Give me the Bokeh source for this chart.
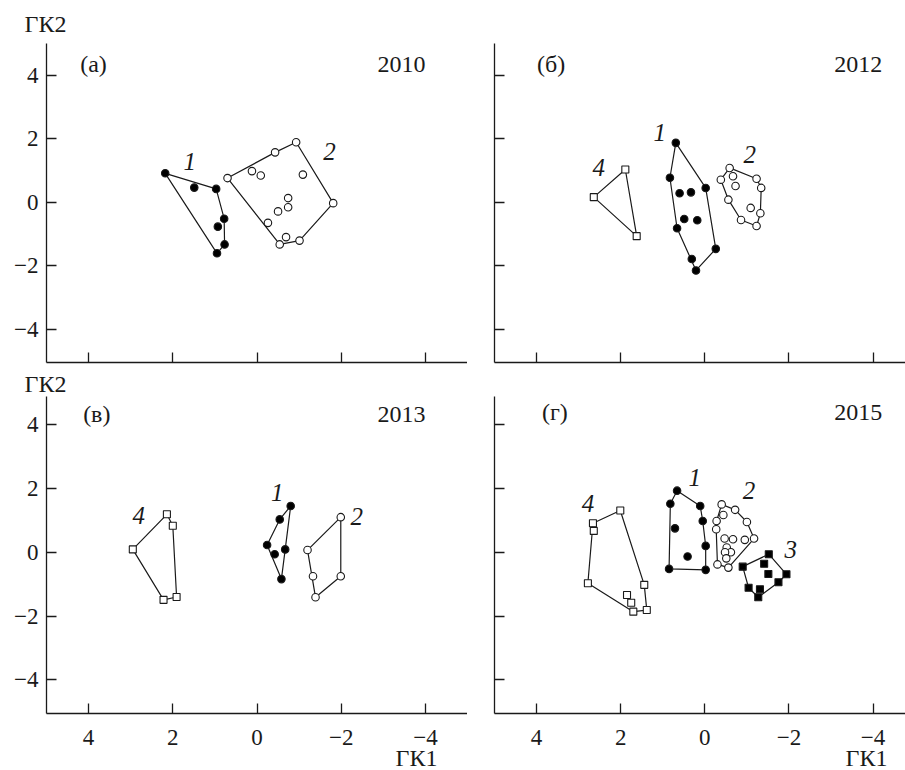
from bokeh.plotting import figure
from bokeh.layouts import column, row
from bokeh.models import FixedTicker, Label, Range1d, Title
from bokeh.embed import file_html
from bokeh.resources import INLINE
from bokeh.core.properties import value

FONT = "Liberation Serif"
INK = "#1a1a1a"

TICKS = [4, 2, 0, -2, -4]
TICK_LABELS = ["4", "2", "0", "\u22122", "\u22124"]

# ---------- data (ГК1, ГК2) ----------
# (а) 2010
a_g1_x = [2.18, 1.49, 0.97, 0.78, 0.93, 0.77, 0.95]
a_g1_y = [0.91, 0.46, 0.42, -0.52, -0.77, -1.33, -1.61]
a_g2_x = [0.70, -0.43, -0.93, -1.81, -1.01, -0.54, 0.12, -0.09, -1.09, -0.74, -0.74, -0.50, -0.26, -0.69]
a_g2_y = [0.76, 1.57, 1.89, -0.03, -1.21, -1.33, 0.98, 0.84, 0.87, 0.13, -0.16, -0.29, -0.65, -1.10]

# (б) 2012
b_g1_x = [0.69, 0.83, -0.02, 0.66, -0.26, 0.31, 0.21, 0.60, 0.33, 0.49, 0.18]
b_g1_y = [1.87, 0.77, 0.45, -0.82, -1.47, -1.79, -2.15, 0.28, 0.31, -0.53, -0.57]
b_g2_x = [-0.59, -0.38, -1.23, -1.34, -1.32, -1.23, -0.86, -0.56, -0.67, -0.73, -1.09]
b_g2_y = [1.08, 0.71, 0.74, 0.45, -0.35, -0.75, -0.56, 0.08, 0.82, 0.51, -0.18]
b_g4_x = [1.89, 2.64, 1.62]
b_g4_y = [1.03, 0.16, -1.07]

# (в) 2013
c_g1_x = [-0.80, -0.54, -0.24, -0.42, -0.67, -0.58]
c_g1_y = [1.45, 1.03, 0.23, -0.06, 0.09, -0.84]
c_g2_x = [-1.99, -1.20, -1.33, -1.39, -1.99]
c_g2_y = [1.10, 0.07, -0.75, -1.41, -0.75]
c_g4_x = [2.14, 2.00, 2.95, 2.22, 1.91]
c_g4_y = [1.19, 0.83, 0.09, -1.49, -1.40]

# (г) 2015
d_g1_x = [0.66, 0.82, 0.11, 0.05, -0.02, -0.02, 0.85, 0.71, 0.41]
d_g1_y = [1.93, 1.52, 1.45, 0.98, 0.20, -0.55, -0.52, 0.75, -0.13]
d_g2_x = [-0.40, -0.72, -0.44, -0.28, -0.27, -1.00, -1.17, -0.95, -0.47, -0.67,
          -0.52, -0.62, -0.48, -0.51, -0.30, -0.56]
d_g2_y = [1.50, 1.33, 1.17, 0.98, 0.72, 0.95, 0.43, 0.39, 0.43, 0.41,
          0.15, 0.00, 0.00, -0.19, -0.38, -0.48]
d_g3_x = [-1.52, -0.90, -1.41, -1.51, -1.94, -1.75, -1.04, -1.31, -1.27]
d_g3_y = [-0.06, -0.45, -0.36, -0.68, -0.69, -0.94, -1.11, -1.16, -1.41]
d_g4_x = [2.01, 2.66, 2.64, 2.78, 1.70, 1.38, 1.44, 1.85, 1.75]
d_g4_y = [1.31, 0.91, 0.67, -0.97, -1.86, -1.81, -1.02, -1.34, -1.58]

# group number labels (text, x, y of the label)
a_nums = (["1", "2"], [1.60, -1.72], [1.28, 1.59])
b_nums = (["4", "1", "2"], [2.52, 1.07, -1.07], [1.10, 2.19, 1.49])
c_nums = (["4", "1", "2"], [2.81, -0.48, -2.37], [1.15, 1.88, 1.11])
d_nums = (["4", "1", "2", "3"], [2.78, 0.24, -1.05, -2.04], [1.52, 2.34, 1.92, 0.09])

panel_letters = ["(а)", "(б)", "(в)", "(г)"]
panel_years = ["2010", "2012", "2013", "2015"]
x_title = "ГК1"
y_title = "ГК2"

STYLE = {
    1: dict(marker="circle", size=7.5, fill_color="black"),
    2: dict(marker="circle", size=7.5, fill_color="white"),
    3: dict(marker="square", size=7, fill_color="black"),
    4: dict(marker="square", size=7, fill_color="white"),
}


def hull(xs, ys):
    pts = sorted(set(zip(xs, ys)))
    if len(pts) < 3:
        return [p[0] for p in pts], [p[1] for p in pts]

    def cross(o, a, b):
        return (a[0] - o[0]) * (b[1] - o[1]) - (a[1] - o[1]) * (b[0] - o[0])

    lower, upper = [], []
    for p in pts:
        while len(lower) >= 2 and cross(lower[-2], lower[-1], p) <= 0:
            lower.pop()
        lower.append(p)
    for p in reversed(pts):
        while len(upper) >= 2 and cross(upper[-2], upper[-1], p) <= 0:
            upper.pop()
        upper.append(p)
    h = lower[:-1] + upper[:-1]
    return [p[0] for p in h], [p[1] for p in h]


def make_panel(width, height, x_end, y_end, mb_left, mb_top, mb_bottom, show_x, show_y):
    p = figure(width=width, height=height, output_backend="svg", toolbar_location=None,
               x_range=Range1d(5, x_end), y_range=Range1d(-5.05, y_end),
               min_border_left=mb_left, min_border_right=0,
               min_border_top=mb_top, min_border_bottom=mb_bottom)
    p.outline_line_color = None
    p.grid.visible = False
    p.background_fill_color = "white"
    p.border_fill_color = "white"
    for ax, show, so in ((p.xaxis[0], show_x, 16), (p.yaxis[0], show_y, 8)):
        ax.ticker = FixedTicker(ticks=TICKS)
        ax.minor_tick_line_color = None
        ax.major_tick_in = 10
        ax.major_tick_out = 0
        ax.axis_line_color = INK
        ax.major_tick_line_color = INK
        ax.axis_line_width = 1.3
        ax.major_tick_line_width = 1.3
        ax.major_label_text_font = FONT
        ax.major_label_text_font_style = "normal"
        ax.major_label_text_color = INK
        ax.major_label_text_font_size = "23px"
        if show:
            ax.major_label_overrides = {t: l for t, l in zip(TICKS, TICK_LABELS)}
            ax.major_label_standoff = so
        else:
            ax.major_label_overrides = {t: "" for t in TICKS}
            ax.major_label_standoff = 0
    return p


def draw_groups(p, groups, nums):
    for g, xs, ys in groups:
        hx, hy = hull(xs, ys)
        p.patch(hx, hy, fill_color=None, line_color=INK, line_width=1.2)
    for g, xs, ys in groups:
        st = STYLE[g]
        p.scatter(xs, ys, marker=st["marker"], size=st["size"], fill_color=st["fill_color"],
                  line_color=INK, line_width=1.1)
    txt, tx, ty = nums
    p.text(x=tx, y=ty, text=txt, text_font=value(FONT), text_font_style="italic",
           text_font_size="25px", text_align="center", text_baseline="alphabetic",
           text_color=INK)


def add_corner_texts(p, letter, year, lx, rx, y):
    p.add_layout(Label(x=lx, y=y, text=letter, text_font=FONT, text_font_size="24px",
                       text_align="left", text_baseline="alphabetic", text_color=INK))
    p.add_layout(Label(x=rx, y=y, text=year, text_font=FONT, text_font_size="24px",
                       text_align="right", text_baseline="alphabetic", text_color=INK))


def add_y_title(p, standoff):
    p.add_layout(Title(text=y_title, align="left", offset=-22, standoff=standoff,
                       vertical_align="bottom", text_font=FONT, text_font_size="24px",
                       text_font_style="normal", text_color=INK), "above")


def add_x_title(p, offset):
    p.add_layout(Title(text=x_title, align="right", offset=offset, standoff=-5,
                       vertical_align="top", text_font=FONT, text_font_size="24px",
                       text_font_style="normal", text_color=INK), "below")


LW, RW = 467, 438
H1, H2 = 368, 402

pa = make_panel(LW, H1, -5, 5.0, 46, 43, 6, False, True)
pb = make_panel(RW, H1, -4.77, 5.0, 27, 43, 6, False, False)
pc = make_panel(LW, H2, -5, 4.88, 46, 28, 56, True, True)
pd = make_panel(RW, H2, -4.77, 4.88, 27, 28, 56, True, False)

draw_groups(pa, [(1, a_g1_x, a_g1_y), (2, a_g2_x, a_g2_y)], a_nums)
draw_groups(pb, [(4, b_g4_x, b_g4_y), (1, b_g1_x, b_g1_y), (2, b_g2_x, b_g2_y)], b_nums)
draw_groups(pc, [(4, c_g4_x, c_g4_y), (1, c_g1_x, c_g1_y), (2, c_g2_x, c_g2_y)], c_nums)
draw_groups(pd, [(4, d_g4_x, d_g4_y), (1, d_g1_x, d_g1_y), (2, d_g2_x, d_g2_y),
                 (3, d_g3_x, d_g3_y)], d_nums)

add_corner_texts(pa, panel_letters[0], panel_years[0], 4.20, -4.0, 4.34)
add_corner_texts(pb, panel_letters[1], panel_years[1], 3.99, -4.22, 4.35)
add_corner_texts(pc, panel_letters[2], panel_years[2], 4.13, -4.0, 4.33)
add_corner_texts(pd, panel_letters[3], panel_years[3], 3.87, -4.22, 4.38)

add_y_title(pa, 13)
add_y_title(pc, 0)
add_x_title(pc, 30)
add_x_title(pd, 18)

layout = column(row(pa, pb), row(pc, pd))
open("out.html", "w").write(file_html(layout, INLINE))
